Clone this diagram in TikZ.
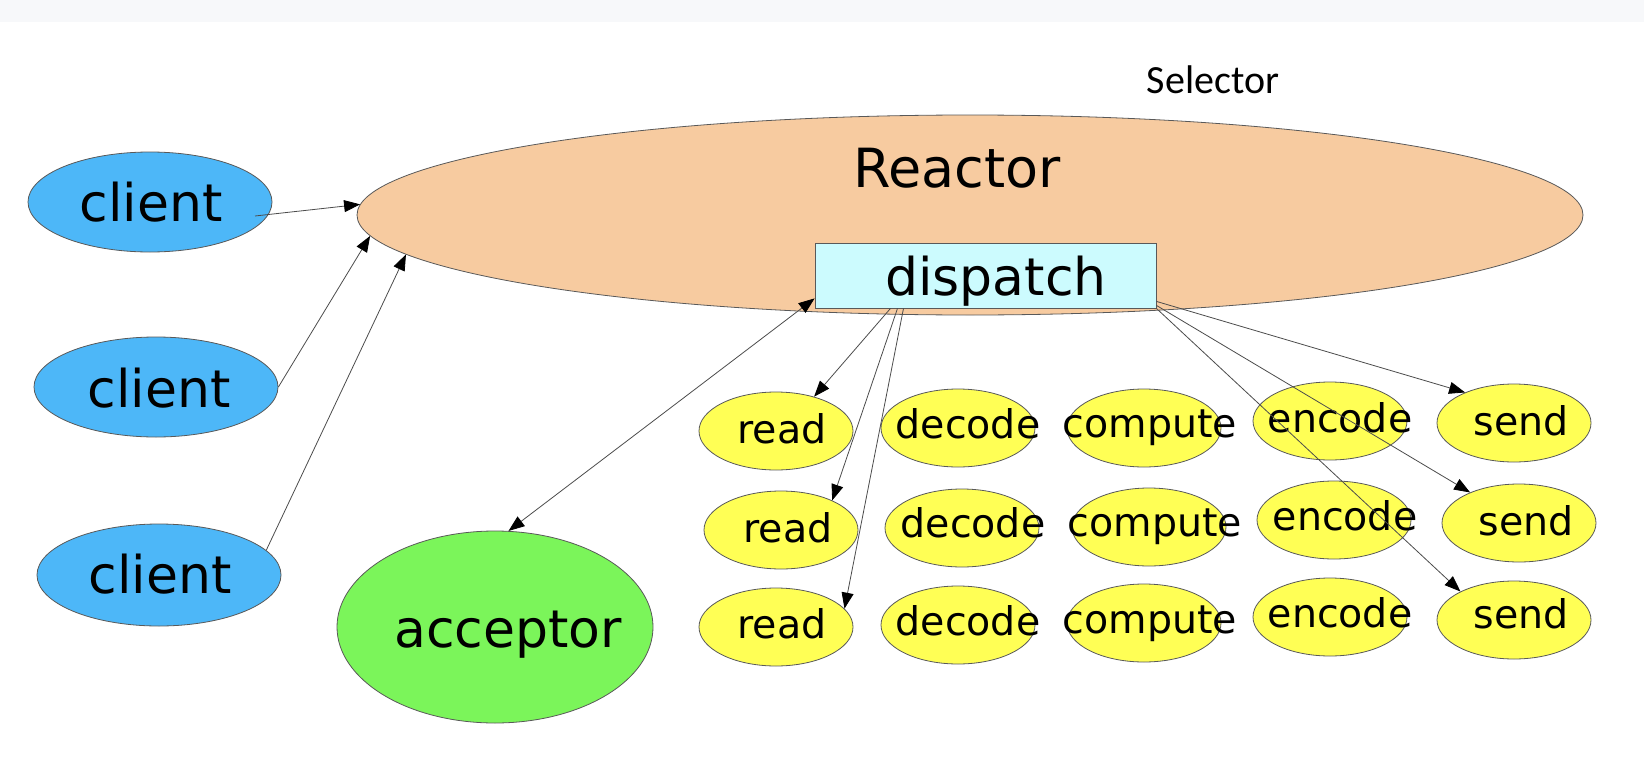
\documentclass[tikz,border=0pt]{standalone}
\usepackage{fontspec}
\setmainfont{DejaVu Sans}
\newfontfamily\selfont{Carlito}
\usetikzlibrary{shapes.geometric,arrows.meta}
\definecolor{topgray}{HTML}{F7F8FA}
\definecolor{reactorfill}{HTML}{F7CBA0}
\definecolor{dispfill}{HTML}{CCFBFE}
\definecolor{clientblue}{HTML}{4DB7F8}
\definecolor{accgreen}{HTML}{7BF55A}
\definecolor{procyellow}{HTML}{FFFF55}
\begin{document}
\begin{tikzpicture}[x=1pt,y=-1pt,
  shp/.style={ellipse,draw=black!65,line width=0.8pt,inner sep=0pt},
  clientshape/.style={shp,fill=clientblue,minimum width=244pt,minimum height=100pt},
  procshape/.style={shp,fill=procyellow,minimum width=154pt,minimum height=78pt},
  lbl/.style={inner sep=0pt,anchor=base},
  biglbl/.style={lbl,font=\fontsize{52}{60}\selectfont},
  proclbl/.style={lbl,font=\fontsize{39.5}{46}\selectfont},
  tip/.style={},
  conn/.style={draw=black!70,line width=0.8pt,-{Triangle[length=16pt,width=12pt,color=black]}},
  conn2/.style={draw=black!70,line width=0.8pt,{Triangle[length=16pt,width=12pt,color=black]}-{Triangle[length=16pt,width=12pt,color=black]}}
]
\useasboundingbox (0,0) rectangle (1644,760);
\fill[white] (0,0) rectangle (1644,760);
\fill[topgray] (0,0) rectangle (1644,22);

% Selector label
\node[lbl,font=\selfont\fontsize{40}{48}\selectfont] (selector) at (1213,93) {Selector};

% Reactor
\node[shp,fill=reactorfill,minimum width=1226pt,minimum height=200pt] (reactor) at (970,215) {};
\node[lbl,font=\fontsize{54}{62}\selectfont] (t-reactor) at (957,187) {Reactor};

% dispatch
\node[draw=black!65,line width=0.8pt,fill=dispfill,minimum width=341pt,minimum height=65pt,inner sep=0pt] (disp) at (985.5,275.5) {};
\node[biglbl] (t-disp) at (996,295) {dispatch};

% clients
\node[clientshape] (c1) at (150,202) {};
\node[biglbl] (t-c1) at (151,221) {client};
\node[clientshape] (c2) at (156,387) {};
\node[biglbl] (t-c2) at (159,407) {client};
\node[clientshape,minimum height=102pt] (c3) at (159,575) {};
\node[biglbl] (t-c3) at (160,593) {client};

% acceptor
\node[shp,fill=accgreen,minimum width=316pt,minimum height=192pt] (acc) at (495,627) {};
\node[biglbl] (t-acc) at (508,647) {acceptor};

% processing ellipses
\node[procshape] (read1) at (776,431) {};
\node[procshape] (decode1) at (958,428) {};
\node[procshape] (compute1) at (1144,428) {};
\node[procshape] (encode1) at (1330,421) {};
\node[procshape] (send1) at (1514,423) {};
\node[procshape] (read2) at (781,530) {};
\node[procshape] (decode2) at (962,528) {};
\node[procshape] (compute2) at (1149,527) {};
\node[procshape] (encode2) at (1334,520) {};
\node[procshape] (send2) at (1519,523) {};
\node[procshape] (read3) at (776,627) {};
\node[procshape] (decode3) at (958,625) {};
\node[procshape] (compute3) at (1144,623) {};
\node[procshape] (encode3) at (1330,617) {};
\node[procshape] (send3) at (1514,620) {};

\node[proclbl] (t-read1) at (782,443) {read};
\node[proclbl] (t-decode1) at (968,438) {decode};
\node[proclbl] (t-compute1) at (1150,437) {compute};
\node[proclbl] (t-encode1) at (1340,432) {encode};
\node[proclbl] (t-send1) at (1521,435) {send};
\node[proclbl] (t-read2) at (788,542) {read};
\node[proclbl] (t-decode2) at (973,537) {decode};
\node[proclbl] (t-compute2) at (1155,536) {compute};
\node[proclbl] (t-encode2) at (1345,530) {encode};
\node[proclbl] (t-send2) at (1526,535) {send};
\node[proclbl] (t-read3) at (782,638) {read};
\node[proclbl] (t-decode3) at (968,635) {decode};
\node[proclbl] (t-compute3) at (1150,633) {compute};
\node[proclbl] (t-encode3) at (1340,627) {encode};
\node[proclbl] (t-send3) at (1521,628) {send};

% connectors
\coordinate (c1out) at (255,216);
\draw[conn] (c1out) -- (reactor.179.25);
\draw[conn] (c2.east) -- (reactor.182.8);
\draw[conn] (c3.13) -- (reactor.184.4);
\draw[conn2] (acc.82) -- ([yshift=10pt]disp.south west);
\draw[conn] ([xshift=-95pt]disp.south) -- (read1.42);
\draw[conn] ([xshift=-88pt]disp.south) -- (read2.30);
\draw[conn] ([xshift=-82pt]disp.south) -- (read3.15);
\draw[conn] ([yshift=7pt]disp.south east) -- (send1.148);
\draw[conn] ([yshift=3pt]disp.south east) -- (send2.148);
\draw[conn] (disp.south east) -- (send3.152);
\end{tikzpicture}
\end{document}
